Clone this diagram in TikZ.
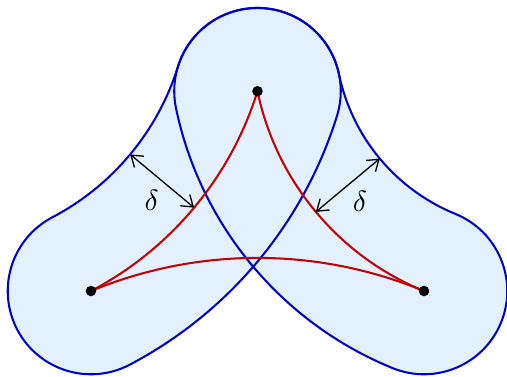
\documentclass[tikz,border=0pt]{standalone}
\usepackage{xcolor}
\usepackage{tikz}
\usetikzlibrary{arrows.meta,calc}
\definecolor{tubeblue}{HTML}{0000C4}
\definecolor{curvered}{HTML}{C00000}
\definecolor{tubefill}{HTML}{E3F0FD}

\newcommand{\lefttube}{($(a)+(117.694:1)$)
  arc[start angle=-62.306, end angle=-17.306, radius=3.08182]
  arc[start angle=162.694, end angle=-17.306, radius=1]
  arc[start angle=-17.306, end angle=-62.306, radius=5.08182]
  arc[start angle=-62.306, end angle=-242.306, radius=1] -- cycle}
\newcommand{\righttube}{($(b)+(11.806:1)$)
  arc[start angle=191.806, end angle=247.806, radius=2.32725]
  arc[start angle=67.806, end angle=-112.194, radius=1]
  arc[start angle=247.806, end angle=191.806, radius=4.32725]
  arc[start angle=191.806, end angle=11.806, radius=1] -- cycle}

\begin{document}
\begin{tikzpicture}[
  tube/.style={
    draw=tubeblue,
    line width=0.7pt,
    line join=round
  },
  curve/.style={
    draw=curvered,
    line width=0.7pt
  },
  gap/.style={
    {Straight Barb[length=3.6pt,width=5pt]}-{Straight Barb[length=3.6pt,width=5pt]},
    line width=0.45pt
  },
  dot/.style={fill=black}
]

\useasboundingbox (-1.093,-1.021) rectangle (4.997,3.4955);

\coordinate (a) at (0,0);
\coordinate (b) at (2,2.4);
\coordinate (c) at (4,0);
\coordinate (cl) at (-1.89705,3.61418);
\coordinate (cr) at (5.25688,3.08072);

% ends of the two delta arrows
\coordinate (ml) at ($(cl)+(-39.806:4.08182)$);
\coordinate (ol) at ($(cl)+(-39.806:3.08182)$);
\coordinate (mr) at ($(cr)+(219.806:3.32725)$);
\coordinate (or) at ($(cr)+(219.806:2.32725)$);

% tubes: fill first, then outlines
\fill[tubefill] \lefttube;
\fill[tubefill] \righttube;
\draw[tube] \lefttube;
\draw[tube] \righttube;

\draw[curve] (a) arc[start angle=-62.306, end angle=-17.306, radius=4.08182];
\draw[curve] (b) arc[start angle=191.806, end angle=247.806, radius=3.32725];
\draw[curve] (a) arc[start angle=112.5, end angle=67.5, radius=5.22625];

\draw[gap] (ml) -- node[xshift=-0.126cm, yshift=-0.228cm] {$\delta$} (ol);
\draw[gap] (mr) -- node[xshift=0.146cm, yshift=-0.198cm] {$\delta$} (or);

\fill[dot] (a) circle (1.8pt);
\fill[dot] (b) circle (1.8pt);
\fill[dot] (c) circle (1.8pt);

\end{tikzpicture}
\end{document}
